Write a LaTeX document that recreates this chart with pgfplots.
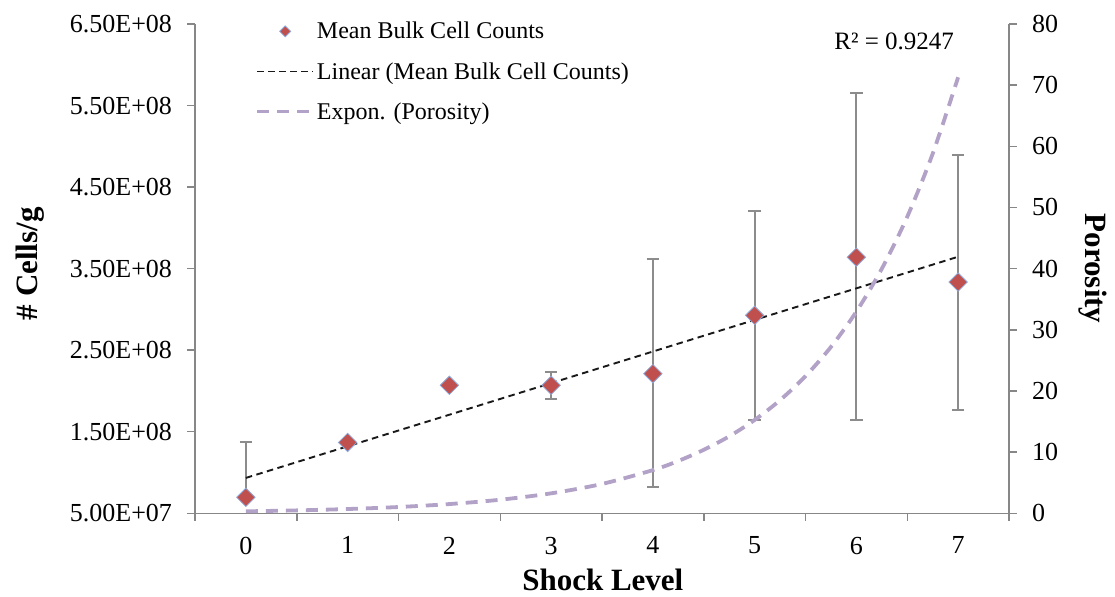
\documentclass[border=0pt]{standalone}
\usepackage{fontspec}
\setmainfont{Liberation Serif}
\usepackage{pgfplots}
\pgfplotsset{compat=1.18}
\usepackage{pgfplotstable}

\definecolor{cellred}{HTML}{C0504D}
\definecolor{celledge}{HTML}{8EA9DB}
\definecolor{axisgray}{HTML}{878787}
\definecolor{errgray}{HTML}{8C8C8C}
\definecolor{porolav}{HTML}{B3A2C7}

% mean bulk cell counts per shock level, with upper / lower error
\pgfplotstableread{
level mean errp errm
0 6.96e7 6.73e7 0
1 1.369e8 0 0
2 2.07e8 0 0
3 2.07e8 1.63e7 1.63e7
4 2.212e8 1.409e8 1.386e8
5 2.927e8 1.285e8 1.285e8
6 3.641e8 2.007e8 2.0e8
7 3.335e8 1.56e8 1.57e8
}\cellcounts

% linear trend of the cell counts
\pgfplotstableread{
level fit
0 9.34e7
7 3.646e8
}\linfit

% exponential trend of porosity
\pgfplotstableread{
level porosity
0 0.323
0.5 0.475
1 0.698
1.5 1.027
2 1.510
2.5 2.220
3 3.264
3.5 4.80
4 7.06
4.25 8.56
4.5 10.38
4.75 12.58
5 15.26
5.25 18.50
5.5 22.43
5.75 27.20
6 32.98
6.25 39.99
6.5 48.49
6.75 58.80
7 71.29
}\porofit

\pgfplotsset{
  common/.style={
    scale only axis, width=814pt, height=489.3pt,
    xmin=-0.5, xmax=7.5,
    tick style={axisgray, line width=1.5pt},
    major tick length=7.5pt,
    tick align=outside,
    tick label style={font=\fontsize{26}{30}\selectfont},
    label style={font=\fontsize{31}{36}\selectfont\bfseries},
    /pgf/number format/assume math mode=true,
  },
  wide line legend/.style={legend image code/.code={\draw[##1] (0pt,0pt) -- (56pt,0pt);}},
  small mark legend/.style={legend image code/.code={\draw[##1, mark size=3.9pt] plot coordinates {(28pt,0pt)};}},
}

\begin{document}
\begin{tikzpicture}
\begin{axis}[common,
  name=main,
  axis x line*=bottom, axis y line*=left,
  axis line style={axisgray, line width=1.5pt, -},
  ymin=5e7, ymax=6.5e8,
  scaled y ticks=false,
  ytick={5e7,1.5e8,2.5e8,3.5e8,4.5e8,5.5e8,6.5e8},
  yticklabels={5.00E+07,1.50E+08,2.50E+08,3.50E+08,4.50E+08,5.50E+08,6.50E+08},
  yticklabel style={xshift=-12pt},
  xtick={-0.5,0.5,...,7.5}, xticklabels={},
  extra x ticks={0,1,...,7},
  extra x tick labels={0,1,2,3,4,5,6,7},
  extra x tick style={major tick length=0pt, xticklabel style={yshift=-20pt}},
  ylabel={\# Cells/g},
  ylabel style={at={(axis description cs:-0.203,0.51)}, anchor=center},
  xlabel={Shock Level},
  xlabel style={at={(axis description cs:0.501,-0.136)}, anchor=center},
  legend cell align=left,
  legend style={
    at={(axis description cs:0.074,1.008)}, anchor=north west,
    draw=none, fill=none,
    font=\fontsize{24}{28}\selectfont,
    row sep=18pt, inner sep=0pt,
    nodes={inner sep=2pt},
  },
]
% cell count means with their error bars
\addplot[only marks, mark=square*, mark size=6.5pt,
  mark options={rotate=45, fill=cellred, draw=celledge, line width=0.8pt},
  small mark legend,
  error bars/.cd, y dir=both, y explicit,
  error bar style={draw=errgray, line width=2pt},
  error mark options={rotate=90, draw=errgray, line width=2pt, mark size=6.3pt}]
  table[x=level, y=mean, y error plus=errp, y error minus=errm] {\cellcounts};
\addlegendentry{Mean Bulk Cell Counts}
\addplot[black!90, line width=1.9pt, dash pattern=on 6.5pt off 4.5pt, wide line legend]
  table[x=level, y=fit] {\linfit};
\addlegendentry{Linear (Mean Bulk Cell Counts)}
\addlegendimage{porolav, line width=3.5pt, dash pattern=on 12pt off 8pt, wide line legend}
\addlegendentry{Expon. (Porosity)}
\node[font=\fontsize{25}{30}\selectfont, anchor=center] at (rel axis cs:0.859,0.964) {R² = 0.9247};
\coordinate (sw) at (rel axis cs:0,0);
\coordinate (ne) at (rel axis cs:1,1);
\end{axis}

\begin{axis}[common,
  axis y line*=right, axis x line=none,
  axis line style={axisgray, line width=1.5pt, -},
  ymin=0, ymax=80, ytick={0,10,...,80},
  yticklabel style={xshift=12pt},
  ylabel={Porosity},
  ylabel style={at={(axis description cs:1.103,0.5)}, anchor=center, rotate=180},
]
\addplot[porolav, line width=3.8pt, dash pattern=on 12pt off 8pt, smooth]
  table[x=level, y=porosity] {\porofit};
\end{axis}

\pgfresetboundingbox
\path[use as bounding box] ([shift={(-195pt,-83.7pt)}]sw) rectangle ([shift={(106pt,24pt)}]ne);
\end{tikzpicture}
\end{document}
